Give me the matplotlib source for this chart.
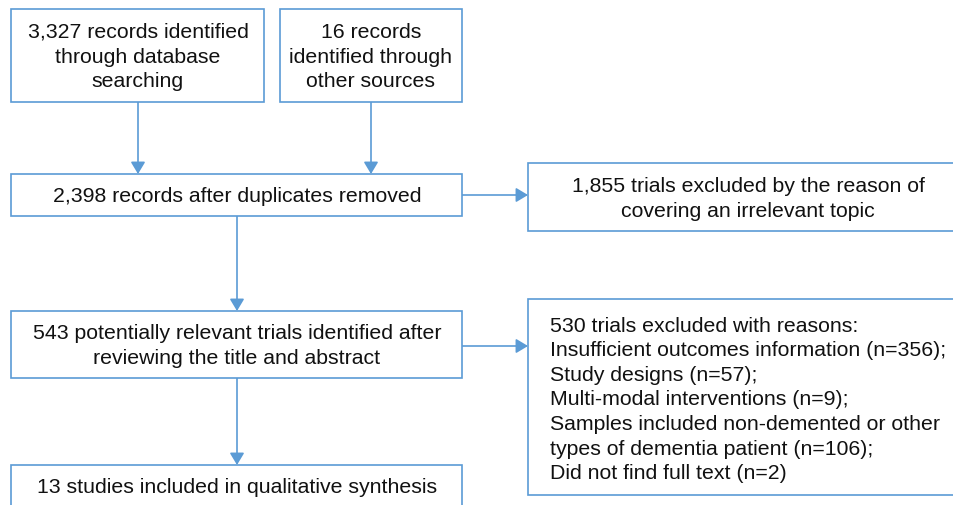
import matplotlib
matplotlib.use("Agg")
import matplotlib.pyplot as plt
from matplotlib.patches import Rectangle, FancyArrowPatch

# ---- content ----
box_texts = [
    "3,327 records identified\nthrough database\nsearching",
    "16 records\nidentified through\nother sources",
    "2,398 records after duplicates removed",
    "1,855 trials excluded by the reason of\ncovering an irrelevant topic",
    "543 potentially relevant trials identified after\nreviewing the title and abstract",
    "530 trials excluded with reasons:\nInsufficient outcomes information (n=356);\nStudy designs (n=57);\nMulti-modal interventions (n=9);\nSamples included non-demented or other\ntypes of dementia patient (n=106);\nDid not find full text (n=2)",
    "13 studies included in qualitative synthesis",
]

# ---- layout (pixels, y downward) ----
W, H = 954, 506
boxes = [  # x0, y0, x1, y1
    (11, 10, 264, 103),
    (280, 10, 462, 103),
    (11, 175, 462, 217),
    (528, 164, 1000, 232),
    (11, 312, 462, 379),
    (528, 300, 1000, 496),
    (11, 466, 462, 540),
]
text_pos = [  # x, y, ha
    (138, 57, "center"),
    (371, 57, "center"),
    (237, 197, "center"),
    (748, 199, "center"),
    (237, 346, "center"),
    (550, 400, "left"),
    (237, 488, "center"),
]
arrows = [
    ((138, 103), (138, 175)),
    ((371, 103), (371, 175)),
    ((462, 196), (528, 196)),
    ((237, 217), (237, 312)),
    ((462, 347), (528, 347)),
    ((237, 379), (237, 466)),
]

col = "#5B9BD5"
plt.rcParams['font.family'] = ['Liberation Sans', 'DejaVu Sans']

fig = plt.figure(figsize=(W / 100, H / 100), dpi=100)
ax = fig.add_axes([0, 0, 1, 1])
ax.set_xlim(0, W)
ax.set_ylim(H, 0)
ax.axis("off")

for (x0, y0, x1, y1) in boxes:
    ax.add_patch(Rectangle((x0, y0), x1 - x0, y1 - y0, facecolor="white",
                           edgecolor=col, linewidth=1.2, zorder=2))

for t, (x, y, ha) in zip(box_texts, text_pos):
    ax.text(x, y, t, ha=ha, va="center", fontsize=15.3, color="#111111",
            linespacing=1.37, zorder=3, multialignment=ha)

for (a, b) in arrows:
    ax.add_patch(FancyArrowPatch(a, b, arrowstyle="-|>,head_length=0.4,head_width=0.24",
                                 mutation_scale=18, color=col, linewidth=1.2,
                                 shrinkA=0, shrinkB=0, zorder=1))

fig.savefig("out.png", dpi=100, facecolor="white")
